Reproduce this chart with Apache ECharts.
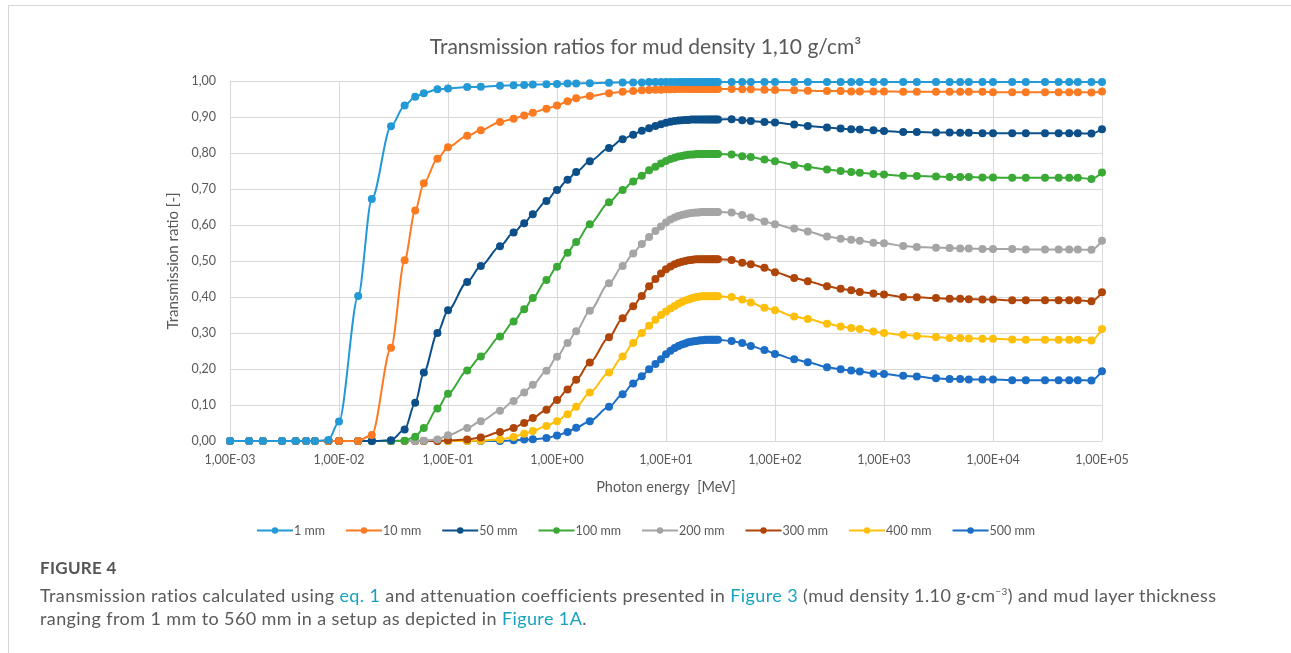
<!DOCTYPE html>
<html>
<head>
<meta charset="utf-8">
<script src="https://cdn.jsdelivr.net/npm/echarts@6/dist/echarts.min.js"></script>
<style>
  html, body { margin: 0; padding: 0; background: #fff; }
  #frame { position: absolute; left: 8px; top: 5px; width: 1400px; height: 800px; border-left: 1px solid #d6d6d6; border-top: 1px solid #d6d6d6; }
  #chart { position: absolute; left: 0; top: 0; width: 1291px; height: 653px; }
  #cap { position: absolute; left: 40px; top: 557px; width: 1240px; font-family: Lato, "Open Sans", sans-serif; color: #5a5a5a; }
  #cap .fig { font-size: 17px; font-weight: bold; color: #555; letter-spacing: 0.3px; margin-bottom: 2px; }
  #cap .txt { font-size: 18px; line-height: 23px; letter-spacing: 0.4px; }
  #cap a { color: #17a2c0; text-decoration: none; }
</style>
</head>
<body>
<div id="frame"></div>
<div id="chart"></div>
<div id="cap">
  <div class="fig">FIGURE 4</div>
  <div class="txt">Transmission ratios calculated using <a>eq. 1</a> and attenuation coefficients presented in <a>Figure 3</a> (mud density 1.10 g·cm<sup style="font-size:10px">−3</sup>) and mud layer thickness<br>ranging from 1 mm to 560 mm in a setup as depicted in <a>Figure 1A</a>.</div>
</div>
<script>
// Photon energies [MeV]
const energies = [
  0.001,0.0015,0.002,0.003,0.004,0.005,0.006,0.008,
  0.01,0.015,0.02,0.03,0.04,0.05,0.06,0.08,
  0.1,0.15,0.2,0.3,0.4,0.5,0.6,0.8,
  1,1.25,1.5,2,3,4,5,6,7,8,9,
  10,11,12,13,14,15,16,17,18,19,20,21,22,23,24,25,26,27,28,29,30,
  40,50,60,80,100,150,200,300,400,500,600,800,
  1000,1500,2000,3000,4000,5000,6000,8000,
  10000,15000,20000,30000,40000,50000,60000,80000,100000
];

const seriesNames = ['1 mm','10 mm','50 mm','100 mm','200 mm','300 mm','400 mm','500 mm'];

const t1mm = [
  0,0,0,0,0,0,0,0.003,
  0.054,0.403,0.672,0.874,0.932,0.956,0.966,0.977,
  0.979,0.983,0.984,0.987,0.988,0.989,0.990,0.991,
  0.992,0.993,0.993,0.994,0.995,0.996,0.996,0.996,0.997,0.997,0.997,
  0.997,0.997,0.997,0.997,0.997,0.997,0.997,0.997,0.997,0.997,0.997,0.997,0.997,0.997,0.997,0.997,0.997,0.997,0.997,0.997,0.997,
  0.997,0.997,0.997,0.997,0.997,0.997,0.997,0.997,0.997,0.997,0.997,0.997,
  0.997,0.997,0.997,0.997,0.997,0.997,0.997,0.997,
  0.997,0.997,0.997,0.997,0.997,0.997,0.997,0.997,0.997
];
const t10mm = [
  0,0,0,0,0,0,0,0,
  0,0,0.017,0.259,0.502,0.640,0.716,0.784,
  0.816,0.848,0.863,0.886,0.895,0.904,0.912,0.923,
  0.932,0.944,0.952,0.958,0.966,0.970,0.972,0.974,0.975,0.976,0.976,
  0.977,0.977,0.977,0.978,0.978,0.978,0.978,0.978,0.978,0.978,0.978,0.978,0.978,0.978,0.978,0.978,0.978,0.978,0.978,0.978,0.978,
  0.978,0.977,0.977,0.976,0.975,0.974,0.973,0.972,0.972,0.971,0.971,0.971,
  0.971,0.970,0.970,0.970,0.970,0.970,0.970,0.970,
  0.969,0.969,0.969,0.969,0.969,0.969,0.969,0.968,0.971
];
const t50mm = [
  0,0,0,0,0,0,0,0,
  0,0,0,0.002,0.032,0.106,0.190,0.300,
  0.363,0.442,0.486,0.541,0.579,0.605,0.630,0.667,
  0.697,0.726,0.747,0.777,0.814,0.838,0.851,0.862,0.869,0.875,0.880,
  0.884,0.887,0.889,0.890,0.891,0.892,0.892,0.893,0.893,0.893,0.893,0.893,0.893,0.893,0.893,0.893,0.893,0.893,0.893,0.893,0.893,
  0.894,0.891,0.889,0.886,0.885,0.879,0.875,0.871,0.868,0.866,0.865,0.863,
  0.861,0.858,0.858,0.857,0.857,0.856,0.856,0.855,
  0.855,0.855,0.855,0.855,0.855,0.855,0.855,0.854,0.866
];
const t100mm = [
  0,0,0,0,0,0,0,0,
  0,0,0,0,0.001,0.012,0.036,0.090,
  0.131,0.196,0.235,0.290,0.332,0.366,0.397,0.447,
  0.484,0.523,0.553,0.602,0.663,0.697,0.721,0.737,0.752,0.762,0.771,
  0.778,0.783,0.787,0.790,0.792,0.794,0.795,0.796,0.796,0.797,0.797,0.797,0.797,0.797,0.797,0.797,0.797,0.797,0.797,0.797,0.797,
  0.796,0.791,0.789,0.782,0.777,0.767,0.761,0.754,0.750,0.747,0.745,0.742,
  0.740,0.737,0.736,0.735,0.733,0.733,0.733,0.732,
  0.732,0.731,0.731,0.731,0.731,0.731,0.731,0.728,0.746
];
const t200mm = [
  0,0,0,0,0,0,0,0,
  0,0,0,0,0,0,0.001,0.004,
  0.016,0.036,0.055,0.084,0.111,0.135,0.156,0.195,
  0.234,0.272,0.305,0.362,0.438,0.486,0.521,0.547,0.567,0.583,0.596,
  0.607,0.615,0.621,0.625,0.628,0.630,0.632,0.633,0.634,0.635,0.635,0.636,0.636,0.636,0.636,0.636,0.636,0.636,0.636,0.636,0.636,
  0.635,0.628,0.621,0.610,0.602,0.590,0.582,0.568,0.562,0.559,0.556,0.551,
  0.549,0.542,0.539,0.537,0.536,0.535,0.535,0.533,
  0.533,0.533,0.532,0.532,0.532,0.532,0.532,0.531,0.556
];
const t300mm = [
  0,0,0,0,0,0,0,0,
  0,0,0,0,0,0,0,0,
  0.002,0.004,0.010,0.025,0.036,0.050,0.064,0.087,
  0.114,0.143,0.170,0.218,0.288,0.341,0.374,0.403,0.430,0.450,0.465,
  0.477,0.485,0.491,0.495,0.498,0.500,0.502,0.503,0.504,0.505,0.505,0.505,0.505,0.505,0.505,0.505,0.505,0.505,0.505,0.505,0.505,
  0.503,0.495,0.491,0.481,0.469,0.453,0.444,0.430,0.423,0.419,0.414,0.410,
  0.407,0.400,0.399,0.397,0.395,0.395,0.394,0.393,
  0.393,0.391,0.391,0.391,0.391,0.391,0.391,0.388,0.413
];
const t400mm = [
  0,0,0,0,0,0,0,0,
  0,0,0,0,0,0,0,0,
  0,0,0.001,0.004,0.011,0.020,0.028,0.042,
  0.055,0.074,0.095,0.135,0.190,0.235,0.272,0.300,0.320,0.337,0.350,
  0.360,0.368,0.375,0.381,0.386,0.390,0.393,0.396,0.398,0.400,0.401,0.402,0.402,0.402,0.402,0.402,0.402,0.402,0.402,0.402,0.402,
  0.400,0.393,0.385,0.370,0.363,0.346,0.339,0.326,0.318,0.314,0.311,0.304,
  0.300,0.295,0.292,0.289,0.286,0.286,0.285,0.284,
  0.284,0.282,0.281,0.281,0.281,0.281,0.281,0.279,0.311
];
const t500mm = [
  0,0,0,0,0,0,0,0,
  0,0,0,0,0,0,0,0,
  0,0,0,0,0.002,0.004,0.005,0.008,
  0.015,0.025,0.037,0.055,0.095,0.130,0.160,0.180,0.199,0.214,0.227,
  0.241,0.251,0.258,0.264,0.268,0.271,0.274,0.276,0.277,0.278,0.279,0.280,0.280,0.281,0.281,0.281,0.281,0.281,0.281,0.281,0.281,
  0.278,0.272,0.264,0.253,0.242,0.227,0.219,0.205,0.199,0.196,0.193,0.187,
  0.186,0.181,0.179,0.174,0.172,0.172,0.171,0.171,
  0.171,0.169,0.169,0.169,0.169,0.169,0.169,0.168,0.194
];

const seriesValues = [t1mm, t10mm, t50mm, t100mm, t200mm, t300mm, t400mm, t500mm];
const colors = ['#2399d6','#fb7a22','#0d5089','#3aa936','#a5a5a5','#b04509','#fdbf0a','#1b6dc6'];

const FONT = 'Lato, "Open Sans", sans-serif';
const TXT = '#595959';

function fmtX(v) {
  const e = Math.round(Math.log10(v));
  const sign = e < 0 ? '-' : '+';
  const a = Math.abs(e);
  return '1,00E' + sign + (a < 10 ? '0' + a : a);
}

const chart = echarts.init(document.getElementById('chart'));
chart.setOption({
  animation: false,
  color: colors,
  title: {
    text: 'Transmission ratios for mud density 1,10 g/cm³',
    left: 'center',
    top: 32,
    textStyle: { fontFamily: FONT, fontSize: 21, fontWeight: 'normal', color: TXT }
  },
  legend: {
    data: seriesNames,
    left: 'center',
    top: 519,
    itemWidth: 36,
    itemHeight: 8,
    itemGap: 20,
    textStyle: { fontFamily: FONT, fontSize: 12.5, color: TXT, padding: [0, 0, 0, -4] }
  },
  grid: { left: 230, right: 189, top: 81, bottom: 212 },
  xAxis: {
    type: 'log',
    logBase: 10,
    min: 0.001,
    max: 100000,
    name: 'Photon energy  [MeV]',
    nameLocation: 'middle',
    nameGap: 39,
    nameTextStyle: { fontFamily: FONT, fontSize: 14.5, color: TXT },
    axisLine: { show: true, lineStyle: { color: '#d9d9d9', width: 1 } },
    axisTick: { show: false },
    minorTick: { show: false },
    splitLine: { show: true, lineStyle: { color: '#d9d9d9', width: 1 } },
    axisLabel: { formatter: fmtX, margin: 12, fontFamily: FONT, fontSize: 12.5, color: TXT }
  },
  yAxis: {
    type: 'value',
    min: 0,
    max: 1,
    interval: 0.1,
    name: 'Transmission ratio [-]',
    nameLocation: 'middle',
    nameGap: 47,
    nameTextStyle: { fontFamily: FONT, fontSize: 15, color: TXT },
    axisLine: { show: false },
    axisTick: { show: false },
    splitLine: { show: true, lineStyle: { color: '#d9d9d9', width: 1 } },
    axisLabel: { formatter: v => v.toFixed(2).replace('.', ','), margin: 14, fontFamily: FONT, fontSize: 12.5, color: TXT }
  },
  series: seriesNames.map((name, i) => ({
    name: name,
    type: 'line',
    data: energies.map((e, j) => [e, seriesValues[i][j]]),
    symbol: 'circle',
    symbolSize: 8,
    smooth: 0.3,
    smoothMonotone: 'x',
    lineStyle: { width: 2, color: colors[i] },
    itemStyle: { color: colors[i] },
    z: 10 - i
  }))
});
</script>
</body>
</html>
